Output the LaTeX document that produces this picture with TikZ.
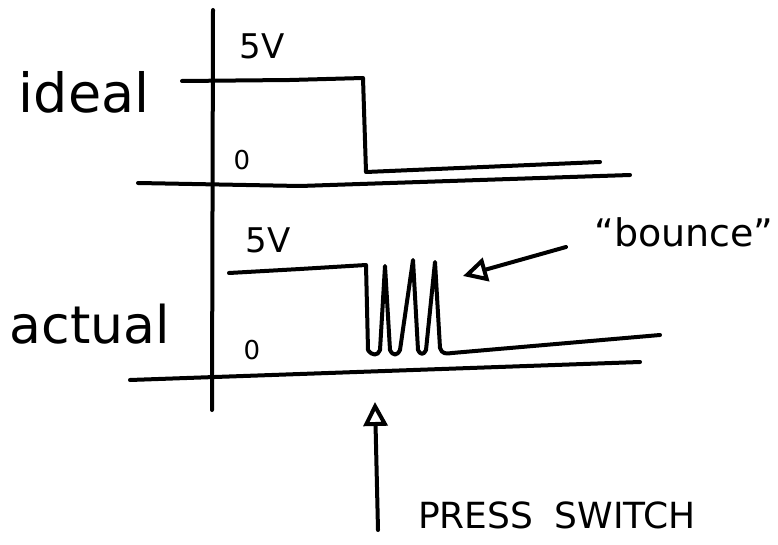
\documentclass[tikz,border=0pt]{standalone}
\usepackage{fontspec}
\setmainfont{DejaVu Sans}
\usetikzlibrary{arrows.meta}
\begin{document}
\begin{tikzpicture}[x=1pt,y=-1pt,
  ink/.style={line width=4pt,line cap=round,line join=round},
  lbl/.style={inner sep=0pt,font=#1},
  pointer/.style={ink,-{Triangle[open,length=24pt,width=24pt,line width=4pt]}}]
\useasboundingbox (0,0) rectangle (778,545);
% axis
\draw[ink] (213,10) -- (212,410);
% ideal
\node[lbl={\fontsize{54}{56}\selectfont}] (ideal) at (84,92) {ideal};
\node[lbl={\fontsize{34}{36}\selectfont}] (v5a) at (262,46) {5V};
\node[lbl={\fontsize{26}{28}\selectfont}] (z0a) at (242,160) {0};
\draw[ink] (182,81) -- (290,80) -- (363,78) -- (366,172) -- (600,162);
\draw[ink] (138,183) -- (300,186) -- (630,175);
% actual
\node[lbl={\fontsize{52}{54}\selectfont}] (actual) at (90,324) {actual};
\node[lbl={\fontsize{34}{36}\selectfont}] (v5b) at (268,240) {5V};
\node[lbl={\fontsize{26}{28}\selectfont}] (z0b) at (252,350) {0};
\draw[ink] (229,273) -- (300,269) -- (366,265) -- (368,350)
  .. controls (372,356) and (378,356) .. (380,350)
  -- (385,266) -- (390,350)
  .. controls (393,356) and (397,356) .. (400,350)
  -- (413,260) -- (418,350)
  .. controls (420,355) and (424,355) .. (426,350)
  -- (435,262) -- (440,348)
  .. controls (442,354) and (446,354) .. (452,353)
  -- (660,335);
\draw[ink] (130,380) -- (640,362);
% bounce label and arrow
\node[lbl={\fontsize{38}{40}\selectfont}] (bounce) at (684,232) {``bounce''};
\draw[pointer] (566,247) -- (463,276);
% press switch
\node[lbl={\fontsize{36}{38}\selectfont}] (press) at (557,515) {PRESS\hspace{0.6em}SWITCH};
\coordinate (tip) at (375,402);
\draw[pointer] (378,530) -- (tip);
\end{tikzpicture}
\end{document}
